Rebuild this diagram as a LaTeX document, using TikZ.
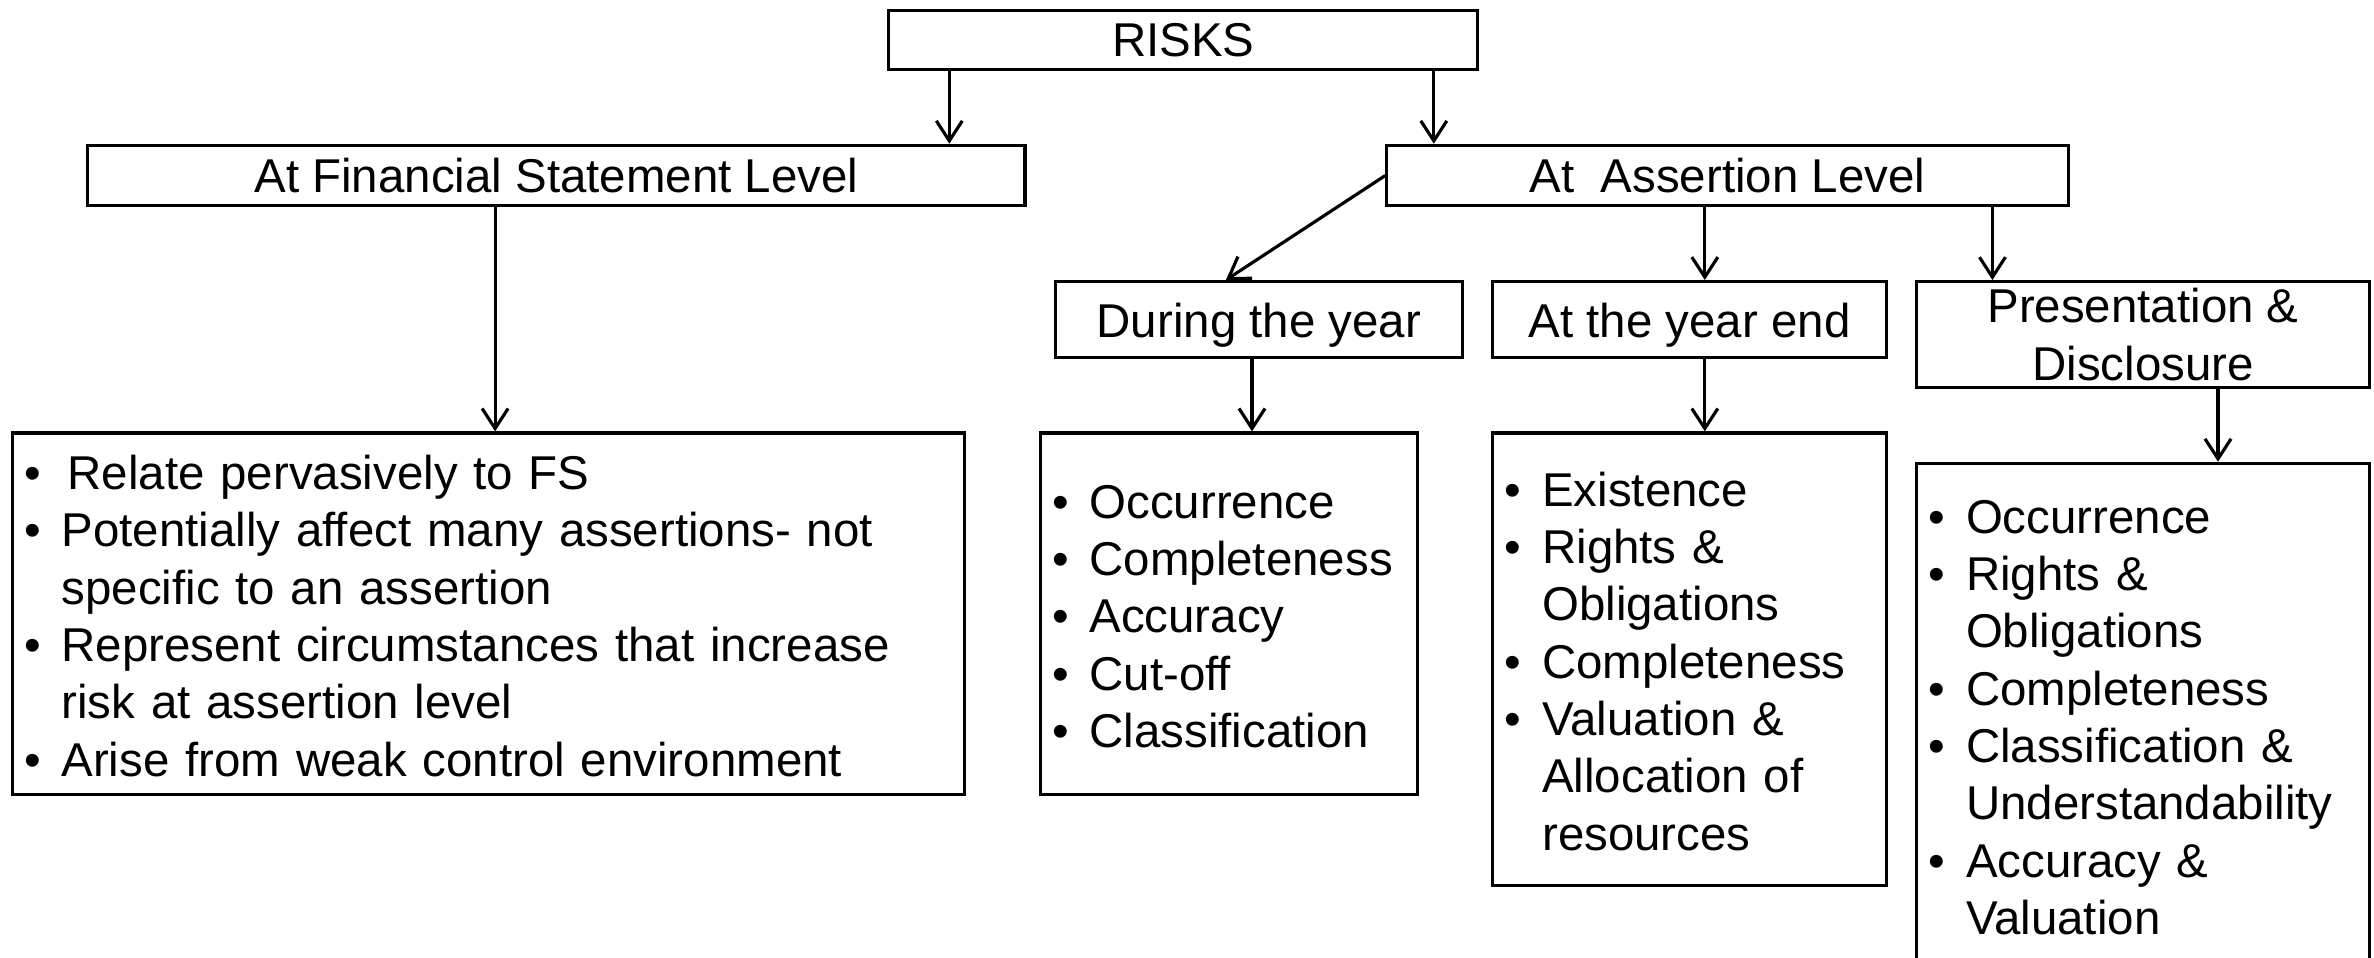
\documentclass[tikz,border=0pt]{standalone}
\usepackage{fontspec}
\setmainfont{Liberation Sans}
\usepackage{tikz}
\usetikzlibrary{arrows.meta,shapes}
\newcommand{\riskfont}{\fontsize{13.5}{16.3}\selectfont}
\newcommand{\bul}{\makebox[0.374cm][l]{\textbullet}}
\newcommand{\risklist}[1]{\raisebox{-0.075cm}[\height][\depth]{\begin{tabular}{@{}l@{}l@{}}#1\end{tabular}}}
\tikzstyle{arrow} = [line width=0.9pt,-{Straight Barb[length=2mm,width=2.6mm]}]
\tikzstyle{levelbox} = [rectangle, draw, line width=0.9pt, inner sep=0pt, align=center, font=\riskfont]
\tikzstyle{listbox} = [rectangle, draw, line width=0.9pt, inner xsep=0.12cm, inner ysep=0pt, align=left, font=\riskfont]

\begin{document}
\begin{tikzpicture}
    \useasboundingbox (0,0) rectangle (23.74,-9.57);
    \clip (0,0) rectangle (23.74,-9.57);

    % Top levels
    \node[levelbox, minimum width=5.89cm, minimum height=0.59cm] (risks) at (11.832,-0.401) {RISKS};
    \node[levelbox, minimum width=9.372cm, minimum height=0.606cm] (fsl) at (5.564,-1.756) {At Financial Statement Level};
    \node[levelbox, minimum width=6.813cm, minimum height=0.606cm] (asl) at (17.274,-1.756) {At\ \ Assertion Level};
    \draw[arrow] (9.493,0 |- risks.south) -- (9.493,0 |- fsl.north);
    \draw[arrow] (14.338,0 |- risks.south) -- (14.338,0 |- asl.north);

    % Assertion level groups
    \node[levelbox, minimum width=4.072cm, minimum height=0.757cm, text height=0.47cm, text depth=0.1cm] (dty) at (12.589,-3.194) {During the year};
    \node[levelbox, minimum width=3.936cm, minimum height=0.757cm, text height=0.47cm, text depth=0.1cm] (aye) at (16.896,-3.194) {At the year end};
    \node[levelbox, minimum width=4.527cm, minimum height=1.06cm] (pnd) at (21.43,-3.346) {Presentation \&\\Disclosure};
    \draw[arrow] (asl.west) -- ([xshift=-0.33cm]dty.north);
    \draw[arrow] (17.048,0 |- asl.south) -- (17.048,0 |- aye.north);
    \draw[arrow] (19.924,0 |- asl.south) -- (19.924,0 |- pnd.north);

    % Lists
    \node[listbox, text width=9.283cm, minimum height=3.619cm] (fslist) at (4.883,-6.139) {%
      \risklist{
        \bul & \hspace{0.06cm}Relate pervasively to FS\\
        \bul & Potentially affect many assertions- not\\
             & specific to an assertion\\
        \bul & Represent circumstances that increase\\
             & risk at assertion level\\
        \bul & Arise from weak control environment}};
    \node[listbox, text width=3.53cm, minimum height=3.619cm] (dtylist) at (12.286,-6.139) {%
      \risklist{
        \bul & Occurrence\\
        \bul & Completeness\\
        \bul & Accuracy\\
        \bul & Cut-off\\
        \bul & Classification}};
    \node[listbox, text width=3.696cm, minimum height=4.527cm] (ayelist) at (16.896,-6.593) {%
      \risklist{
        \bul & Existence\\
        \bul & Rights \&\\
             & Obligations\\
        \bul & Completeness\\
        \bul & Valuation \&\\
             & Allocation of\\
             & resources}};
    \node[listbox, text width=4.287cm, minimum height=5.03cm] (pndlist) at (21.43,-7.148) {%
      \risklist{
        \bul & Occurrence\\
        \bul & Rights \&\\
             & Obligations\\
        \bul & Completeness\\
        \bul & Classification \&\\
             & Understandability\\
        \bul & Accuracy \&\\
             & Valuation}};
    \draw[arrow] (4.951,0 |- fsl.south) -- (4.951,0 |- fslist.north);
    \draw[arrow] (12.52,0 |- dty.south) -- (12.52,0 |- dtylist.north);
    \draw[arrow] (17.048,0 |- aye.south) -- (17.048,0 |- ayelist.north);
    \draw[arrow] (22.18,0 |- pnd.south) -- (22.18,0 |- pndlist.north);
\end{tikzpicture}
\end{document}
